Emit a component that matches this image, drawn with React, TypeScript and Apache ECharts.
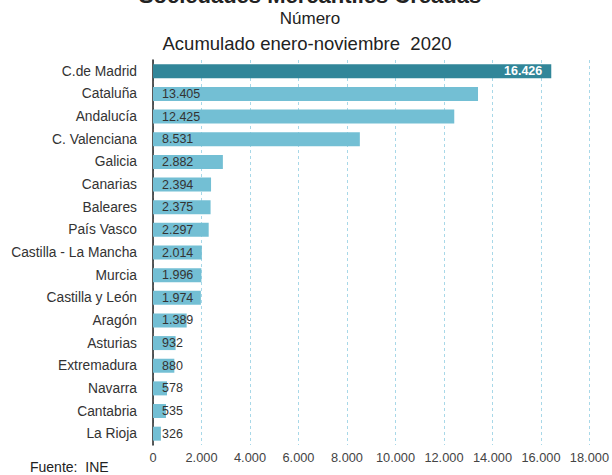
import React, { useEffect, useRef } from "react";
import * as echarts from "echarts";

const categories = [
  "C.de Madrid", "Cataluña", "Andalucía", "C. Valenciana", "Galicia", "Canarias",
  "Baleares", "País Vasco", "Castilla - La Mancha", "Murcia", "Castilla y León",
  "Aragón", "Asturias", "Extremadura", "Navarra", "Cantabria", "La Rioja",
];
const values = [16426, 13405, 12425, 8531, 2882, 2394, 2375, 2297, 2014, 1996, 1974, 1389, 932, 880, 578, 535, 326];
const highlight = "C.de Madrid";

const fmt = (v: number) => String(Math.round(v)).replace(/\B(?=(\d{3})+(?!\d))/g, ".");

export default function App() {
  const ref = useRef<HTMLDivElement>(null);
  useEffect(() => {
    document.body.style.margin = "0";
    const chart = echarts.init(ref.current!, null, { renderer: "svg" });
    const font = "Liberation Sans, Arial, sans-serif";
    const txt = (text: string, x: number, y: number, f: string, align = "center") => ({
      type: "text",
      x,
      y,
      style: { text, font: f, fill: "#222", textAlign: align, textVerticalAlign: "middle" },
    });
    chart.setOption({
      animation: false,
      textStyle: { fontFamily: font },
      graphic: [
        txt("Sociedades Mercantiles Creadas", 310, -5, `bold 22px ${font}`),
        txt("Número", 310, 18, `17px ${font}`),
        txt("Acumulado enero-noviembre  2020", 307, 43, `18.5px ${font}`),
        txt("Fuente:  INE", 30, 467, `14px ${font}`, "left"),
      ],
      grid: { left: 153, right: 22, top: 60, height: 385, containLabel: false },
      xAxis: {
        type: "value",
        min: 0,
        max: 18000,
        interval: 2000,
        axisLine: { show: false },
        axisTick: { show: false },
        axisLabel: { color: "#444", fontSize: 12.8, margin: 6, formatter: (v: number) => fmt(v) },
        splitLine: { show: true, lineStyle: { color: "#A8D8E8", type: [3, 3], width: 1 } },
      },
      yAxis: {
        type: "category",
        data: categories,
        inverse: true,
        axisLine: { show: true, lineStyle: { color: "#222", width: 1.5 } },
        axisTick: { show: false },
        axisLabel: { color: "#333", fontSize: 13.8, margin: 16 },
      },
      series: [
        {
          type: "bar",
          barWidth: 14,
          data: values.map((v, i) => {
            const isH = categories[i] === highlight;
            return {
              value: v,
              itemStyle: { color: isH ? "#318699" : "#73BFD4" },
              label: isH
                ? { show: true, position: "insideRight", distance: 9, color: "#fff", fontWeight: "bold", fontSize: 12.5, formatter: (p: any) => fmt(p.value) }
                : { show: true, position: "insideLeft", distance: 9, color: "#333", fontSize: 12.5, formatter: (p: any) => fmt(p.value) },
            };
          }),
        },
      ],
    });
    return () => chart.dispose();
  }, []);
  return <div ref={ref} style={{ width: 612, height: 475 }} />;
}
